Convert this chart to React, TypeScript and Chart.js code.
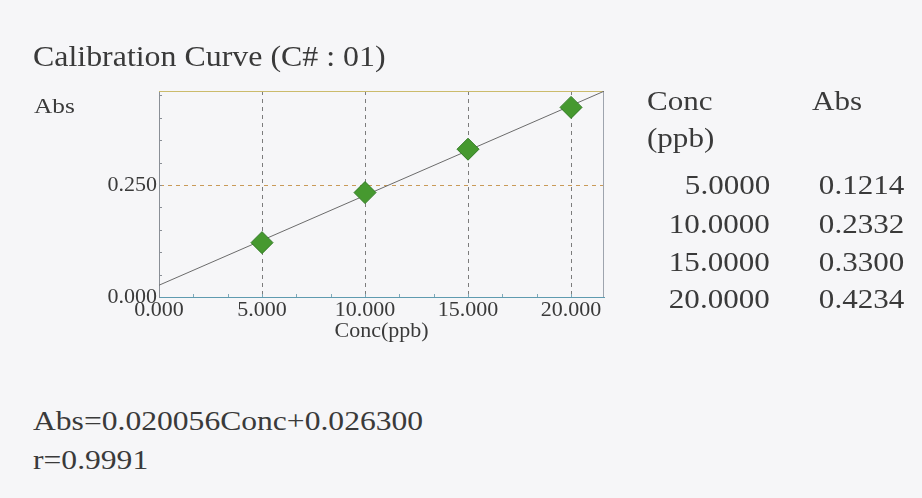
import React, { useEffect, useRef } from "react";
import { Chart, registerables } from "chart.js";

Chart.register(...registerables);

// ---- data ----
const concValues = [5, 10, 15, 20];
const absValues = [0.1214, 0.2332, 0.33, 0.4234];
// regression line Abs = 0.020056*Conc + 0.026300, drawn across the plot
const fitConc = [0, 21.6];
const fitAbs = [0.0263, 0.4595];
const xTickValues = [0, 5, 10, 15, 20];
const yTickValues = [0, 0.25];
const xMax = 21.6;
const yMax = 0.46;
const concLabels = ["5.0000", "10.0000", "15.0000", "20.0000"];
const absLabels = ["0.1214", "0.2332", "0.3300", "0.4234"];
const titleText = "Calibration Curve (C# : 01)";
const yAxisLabel = "Abs";
const xAxisLabel = "Conc(ppb)";
const tableHeaders = ["Conc", "Abs"];
const tableUnit = "(ppb)";
const equationText = "Abs=0.020056Conc+0.026300";
const rText = "r=0.9991";

// ---- style ----
const FONT = '"Liberation Serif", "Times New Roman", serif';
const INK = "#3a3a3a";
const BG = "#f6f6f8";
const W = 922;
const H = 498;

type TxtProps = {
  x: number;
  base: number;
  size: number;
  sx?: number;
  align?: "left" | "right";
  children: React.ReactNode;
};

function Txt({ x, base, size, sx = 1.15, align = "left", children }: TxtProps) {
  const style: React.CSSProperties = {
    position: "absolute",
    top: base - size * 0.8375,
    fontFamily: FONT,
    fontSize: size,
    lineHeight: 1,
    color: INK,
    whiteSpace: "nowrap",
    transform: `scaleX(${sx})`,
    transformOrigin: align === "left" ? "left top" : "right top",
  };
  if (align === "left") style.left = x;
  else style.right = W - x;
  return <div style={style}>{children}</div>;
}

const framePlugin = {
  id: "frame",
  beforeDatasetsDraw(chart: any) {
    const { ctx, chartArea, scales } = chart;
    const { left, right, top, bottom } = chartArea;
    ctx.save();
    ctx.lineWidth = 1;
    // top border
    ctx.strokeStyle = "#cbbb6c";
    ctx.beginPath();
    ctx.moveTo(left, Math.round(top) + 0.5);
    ctx.lineTo(right, Math.round(top) + 0.5);
    ctx.stroke();
    // right border
    ctx.strokeStyle = "#9ea4ae";
    ctx.beginPath();
    ctx.moveTo(Math.round(right) - 0.5, top);
    ctx.lineTo(Math.round(right) - 0.5, bottom);
    ctx.stroke();
    // minor ticks on left and bottom edges
    ctx.strokeStyle = "#8a8f96";
    const ys = scales.y;
    for (let k = 1; k * 0.05 < yMax; k++) {
      const py = Math.round(ys.getPixelForValue(k * 0.05)) + 0.5;
      ctx.beginPath();
      ctx.moveTo(left, py);
      ctx.lineTo(left + 3, py);
      ctx.stroke();
    }
    const xs = scales.x;
    ctx.strokeStyle = "#7fa9b8";
    for (let k = 1; (k * 5) / 3 < xMax; k++) {
      const px = Math.round(xs.getPixelForValue((k * 5) / 3)) + 0.5;
      ctx.beginPath();
      ctx.moveTo(px, bottom);
      ctx.lineTo(px, bottom - 3);
      ctx.stroke();
    }
    ctx.restore();
  },
};

function CalibrationChart() {
  const ref = useRef<HTMLCanvasElement | null>(null);
  useEffect(() => {
    if (!ref.current) return;
    const chart = new Chart(ref.current, {
      type: "scatter",
      data: {
        datasets: [
          {
            label: "Standards",
            data: concValues.map((c, i) => ({ x: c, y: absValues[i] })),
            pointStyle: "rectRot",
            pointRadius: 11,
            pointHoverRadius: 11,
            backgroundColor: "#46992f",
            borderColor: "#2f7a22",
            borderWidth: 1,
            showLine: false,
          },
          {
            label: "Fit",
            data: fitConc.map((c, i) => ({ x: c, y: fitAbs[i] })),
            showLine: true,
            pointRadius: 0,
            borderColor: "#6b6b6b",
            borderWidth: 1,
            fill: false,
          },
        ],
      },
      options: {
        responsive: false,
        animation: false,
        events: [],
        layout: { padding: { left: 0, top: 91, right: 318, bottom: 0 } },
        plugins: {
          legend: { display: false },
          tooltip: { enabled: false },
          title: { display: false },
        },
        scales: {
          x: {
            type: "linear",
            min: 0,
            max: xMax,
            afterBuildTicks: (s: any) => {
              s.ticks = xTickValues.map((v) => ({ value: v }));
            },
            afterFit: (s: any) => {
              s.height = 53;
            },
            ticks: {
              callback: (v: any) => Number(v).toFixed(3),
              font: { family: FONT, size: 22 },
              color: INK,
              padding: 0,
              maxRotation: 0,
              autoSkip: false,
            },
            grid: {
              drawTicks: false,
              lineWidth: 1,
              color: (c: any) =>
                c.tick && c.tick.value === 0 ? "rgba(0,0,0,0)" : "#7c7c7c",
            },
            border: { display: true, color: "#5f9bb0", width: 1, dash: [4, 4] },
            title: {
              display: true,
              text: xAxisLabel,
              font: { family: FONT, size: 22 },
              color: INK,
              padding: { top: 0, bottom: 6 },
            },
          },
          y: {
            type: "linear",
            min: 0,
            max: yMax,
            afterBuildTicks: (s: any) => {
              s.ticks = yTickValues.map((v) => ({ value: v }));
            },
            afterFit: (s: any) => {
              s.width = 159;
            },
            ticks: {
              callback: (v: any) => Number(v).toFixed(3),
              font: { family: FONT, size: 22 },
              color: INK,
              padding: 2,
            },
            grid: {
              drawTicks: false,
              lineWidth: 1,
              color: (c: any) =>
                c.tick && c.tick.value === 0 ? "rgba(0,0,0,0)" : "#c99a58",
            },
            border: { display: true, color: "#8a8f96", width: 1, dash: [4, 4] },
          },
        },
      },
      plugins: [framePlugin],
    });
    return () => chart.destroy();
  }, []);
  return (
    <canvas
      ref={ref}
      width={W}
      height={350}
      style={{ position: "absolute", left: 0, top: 0, width: W, height: 350 }}
    />
  );
}

export default function App() {
  const rowBases = [195, 234, 272, 309];
  return (
    <div
      style={{
        position: "fixed",
        left: 0,
        top: 0,
        width: W,
        height: H,
        background: BG,
        overflow: "hidden",
      }}
    >
      <CalibrationChart />
      <Txt x={33} base={66} size={29} sx={1.1}>
        {titleText}
      </Txt>
      <Txt x={34} base={113} size={22}>
        {yAxisLabel}
      </Txt>
      <Txt x={647} base={111} size={27}>
        {tableHeaders[0]}
      </Txt>
      <Txt x={812} base={111} size={27}>
        {tableHeaders[1]}
      </Txt>
      <Txt x={647} base={148} size={27}>
        {tableUnit}
      </Txt>
      {concLabels.map((c, i) => (
        <Txt key={"c" + i} x={770} base={rowBases[i]} size={27} align="right">
          {c}
        </Txt>
      ))}
      {absLabels.map((a, i) => (
        <Txt key={"a" + i} x={904} base={rowBases[i]} size={27} align="right">
          {a}
        </Txt>
      ))}
      <Txt x={33} base={431} size={27} sx={1.17}>
        {equationText}
      </Txt>
      <Txt x={33} base={470} size={27} sx={1.17}>
        {rText}
      </Txt>
    </div>
  );
}
